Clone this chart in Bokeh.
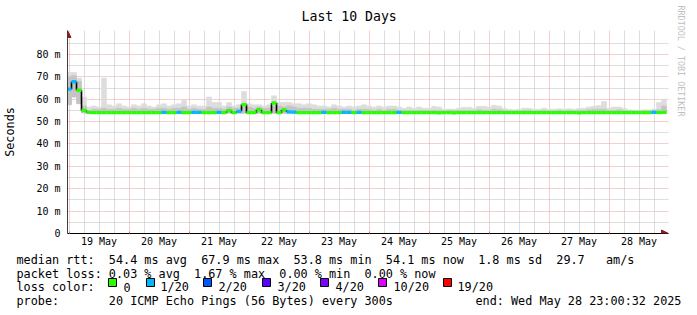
from bokeh.plotting import figure
from bokeh.layouts import column
from bokeh.models import (Range1d, FixedTicker, Arrow, NormalHead,
                          ColumnDataSource, Title)
from bokeh.core.properties import value
from bokeh.embed import file_html
from bokeh.resources import INLINE

# ---------------- data ----------------
# x = hours since Sun 18 May 2025 23:00:32, one value per 2-hour bin
bin_start_hours = list(range(0, 240, 2))

median_ms = [
    64.5, 67.8, 64.0, 55.0, 54.1, 54.0, 54.0, 54.0, 54.0, 54.0, 54.0, 54.0,
    54.0, 54.0, 54.0, 54.0, 54.0, 54.0, 54.0, 54.1, 54.0, 54.0, 54.1, 54.0,
    54.0, 54.1, 54.1, 54.0, 54.0, 54.0, 54.1, 54.0, 54.9, 54.0, 54.6, 57.6,
    54.0, 54.0, 55.3, 54.0, 54.0, 58.3, 54.0, 55.2, 54.3, 54.2, 54.0, 54.0,
    54.0, 54.0, 54.0, 54.1, 54.0, 54.0, 54.0, 54.1, 54.1, 54.0, 54.1, 54.0,
    54.0, 54.0, 54.0, 54.0, 54.0, 54.0, 54.1, 54.0, 54.0, 54.0, 54.0, 54.0,
    54.0, 54.0, 53.9, 54.0, 54.0, 53.9, 54.0, 54.0, 54.0, 54.0, 54.0, 54.0,
    54.0, 54.0, 54.0, 54.0, 54.0, 54.0, 54.0, 54.0, 54.0, 54.0, 54.0, 54.0,
    54.0, 54.0, 54.0, 54.0, 54.0, 54.0, 53.9, 54.0, 54.0, 54.0, 54.0, 54.0,
    54.0, 54.0, 54.0, 54.0, 54.0, 54.0, 54.0, 54.0, 54.0, 54.1, 54.0, 54.1,
]

loss_pings = [
    1, 1, 0, 0, 0, 0, 0, 0, 0, 0, 0, 0,
    0, 0, 0, 0, 0, 0, 0, 1, 0, 0, 1, 0,
    0, 1, 1, 0, 0, 0, 1, 0, 0, 0, 1, 0,
    0, 0, 0, 0, 0, 0, 0, 0, 1, 1, 0, 0,
    0, 0, 0, 1, 0, 0, 0, 1, 1, 0, 1, 0,
    0, 0, 0, 0, 0, 0, 1, 0, 0, 0, 0, 0,
    0, 0, 0, 0, 0, 0, 0, 0, 0, 0, 0, 0,
    0, 0, 0, 0, 0, 0, 0, 0, 0, 0, 0, 0,
    0, 0, 0, 0, 0, 0, 0, 0, 0, 0, 0, 0,
    0, 0, 0, 0, 0, 0, 0, 0, 0, 1, 0, 0,
]

smoke_max_ms = [
    72.0, 72.0, 69.5, 61.0, 56.5, 57.0, 56.5, 69.5, 57.5, 57.0, 58.0, 57.0,
    56.5, 57.5, 57.0, 58.0, 57.0, 56.5, 57.5, 58.0, 57.0, 57.5, 58.0, 59.5,
    57.0, 57.5, 57.0, 57.0, 61.0, 58.5, 58.5, 57.0, 58.5, 57.0, 57.5, 63.5,
    58.0, 57.5, 57.5, 57.0, 57.5, 61.5, 58.5, 58.5, 58.5, 58.0, 58.0, 57.5,
    58.0, 57.5, 57.0, 57.0, 56.5, 57.5, 57.0, 56.5, 57.0, 56.5, 57.0, 57.5,
    57.0, 56.5, 57.0, 56.5, 57.0, 57.0, 56.5, 56.0, 56.5, 56.0, 56.5, 56.0,
    56.0, 56.8, 56.5, 55.5, 55.6, 55.5, 56.0, 56.4, 56.4, 56.0, 56.8, 56.8,
    56.5, 57.3, 57.0, 56.0, 55.5, 55.3, 55.5, 56.0, 56.0, 55.5, 55.5, 56.0,
    55.5, 55.5, 55.7, 55.5, 55.7, 55.5, 55.8, 56.0, 56.5, 56.8, 57.2, 59.0,
    56.0, 56.5, 56.5, 56.0, 55.3, 55.0, 55.0, 55.3, 55.3, 55.5, 58.5, 60.0,
]

smoke_upper_ms = [
    70.0, 70.5, 68.0, 57.0, 55.0, 55.5, 55.5, 56.0, 55.5, 55.5, 56.0, 55.5,
    55.5, 56.0, 55.5, 56.0, 55.5, 55.5, 56.0, 56.0, 55.5, 56.0, 56.0, 56.5,
    55.5, 56.0, 55.5, 55.5, 56.5, 56.0, 56.0, 55.5, 56.5, 56.0, 56.0, 57.0,
    56.5, 56.0, 56.5, 56.0, 56.0, 57.0, 57.0, 56.5, 57.0, 56.5, 56.0, 56.0,
    56.0, 55.5, 55.5, 55.5, 55.5, 56.0, 55.5, 55.5, 55.5, 55.0, 55.5, 55.5,
    55.5, 55.0, 55.5, 55.0, 55.5, 55.5, 55.0, 55.0, 55.0, 55.0, 55.0, 55.0,
    55.0, 55.0, 55.0, 54.8, 55.0, 55.0, 55.0, 55.0, 55.0, 55.0, 55.3, 55.0,
    55.0, 55.5, 55.3, 55.0, 54.8, 54.8, 54.8, 55.0, 55.0, 54.8, 54.8, 55.0,
    54.8, 54.8, 55.0, 54.8, 55.0, 54.8, 55.0, 55.0, 55.3, 55.5, 55.5, 55.5,
    55.0, 55.0, 55.3, 55.0, 54.8, 54.8, 54.8, 54.8, 54.8, 55.0, 55.3, 57.0,
]

smoke_min_ms = [
    57.5, 61.0, 58.0, 53.8, 53.7, 53.7, 53.7, 53.7, 53.7, 53.7, 53.7, 53.7,
    53.7, 53.7, 53.7, 53.7, 53.7, 53.7, 53.7, 53.7, 53.7, 53.7, 53.7, 53.7,
    53.7, 53.7, 53.7, 53.7, 53.7, 53.7, 53.7, 53.7, 53.7, 53.7, 53.7, 53.7,
    53.7, 53.7, 53.7, 53.7, 53.7, 53.7, 53.7, 53.7, 53.7, 53.7, 53.7, 53.7,
    53.7, 53.7, 53.7, 53.7, 53.7, 53.7, 53.7, 53.7, 53.7, 53.7, 53.7, 53.7,
    53.7, 53.7, 53.7, 53.7, 53.7, 53.7, 53.7, 53.7, 53.7, 53.7, 53.7, 53.7,
    53.7, 53.7, 53.7, 53.7, 53.7, 53.7, 53.7, 53.7, 53.7, 53.7, 53.7, 53.7,
    53.7, 53.7, 53.7, 53.7, 53.7, 53.7, 53.7, 53.7, 53.7, 53.7, 53.7, 53.7,
    53.7, 53.7, 53.7, 53.7, 53.7, 53.7, 53.7, 53.7, 53.7, 53.7, 53.7, 53.7,
    53.7, 53.7, 53.7, 53.7, 53.7, 53.7, 53.7, 53.7, 53.7, 53.7, 53.7, 53.7,
]

day_labels = ["19 May", "20 May", "21 May", "22 May", "23 May",
              "24 May", "25 May", "26 May", "27 May", "28 May"]
midnight_hours = [1, 25, 49, 73, 97, 121, 145, 169, 193, 217]
noon_hours = [13, 37, 61, 85, 109, 133, 157, 181, 205, 229]

y_ticks = [0, 10, 20, 30, 40, 50, 60, 70, 80]
y_tick_labels = ["0", "10 m", "20 m", "30 m", "40 m", "50 m", "60 m", "70 m", "80 m"]
y_minor = [5, 15, 25, 35, 45, 55, 65, 75, 85]

loss_labels = ["0", "1/20", "2/20", "3/20", "4/20", "10/20", "19/20"]
loss_thresholds = [0, 1, 2, 3, 4, 10, 19]
loss_colors = ["#26ff00", "#00b8ff", "#0059ff", "#5e00ff", "#7e00ff", "#dd00ff", "#ff0000"]

title_text = "Last 10 Days"
stat_lines = [
    "median rtt:  54.4 ms avg  67.9 ms max  53.8 ms min  54.1 ms now  1.8 ms sd  29.7   am/s",
    "packet loss: 0.03 % avg  1.67 % max  0.00 % min  0.00 % now",
]
probe_text = "probe:       20 ICMP Echo Pings (56 Bytes) every 300s"
end_text = "end: Wed May 28 23:00:32 2025"
watermark = "RRDTOOL / TOBI OETIKER"

# ---------------- main figure ----------------
MONO = "DejaVu Sans Mono"
W = 697
MAIN_H, LEG_H = 250, 65
FL, FR, FT, FB = 67, 668, 30, 233   # frame edges in canvas pixels
X0 = 0.4
X1 = X0 + (FR - FL) / 2.5

p = figure(width=W, height=MAIN_H, output_backend="svg", toolbar_location=None,
           x_range=Range1d(X0, X1), y_range=Range1d(0, 90.7),
           min_border_left=FL, min_border_right=W - FR,
           min_border_top=FT, min_border_bottom=MAIN_H - FB, frame_align=False)
p.outline_line_color = None
p.background_fill_color = "white"
p.border_fill_color = "white"

p.title.text = title_text
p.title.text_font = MONO
p.title.text_font_size = "13.2px"
p.title.text_font_style = "normal"
p.title.text_color = "black"
p.title.align = "left"
p.title.offset = 301 - FL
p.title.standoff = 13

def loss_color(n):
    c = loss_colors[0]
    for t, col in zip(loss_thresholds, loss_colors):
        if n >= t:
            c = col
    return c

bin_end_hours = [h + 2 for h in bin_start_hours]
src = ColumnDataSource(dict(
    x0=bin_start_hours, x1=bin_end_hours, med=median_ms, hi=smoke_max_ms,
    up=smoke_upper_ms, lo=smoke_min_ms,
    col=[loss_color(n) for n in loss_pings]))

# smoke
p.quad(left="x0", right="x1", bottom="lo", top="hi", source=src,
       fill_color="#dddddd", line_color="#dddddd", line_width=0.6)
p.quad(left="x0", right="x1", bottom="lo", top="up", source=src,
       fill_color="#c4c4c4", line_color="#c4c4c4", line_width=0.6)

# median: black connectors + loss coloured steps
p.segment(x0=bin_end_hours[:-1], x1=bin_end_hours[:-1],
          y0=median_ms[:-1], y1=median_ms[1:], line_color="black", line_width=1.6)
p.segment(x0="x0", x1="x1", y0="med", y1="med", source=src,
          line_color="col", line_width=3.3)

# grids
p.xgrid.ticker = FixedTicker(ticks=midnight_hours,
                             minor_ticks=[m + k for m in [-23] + midnight_hours
                                          for k in (6, 12, 18) if 0 < m + k < 241])
p.ygrid.ticker = FixedTicker(ticks=y_ticks[1:], minor_ticks=y_minor)
for g in (p.xgrid[0], p.ygrid[0]):
    g.grid_line_color = "#e9a0a0"
    g.grid_line_dash = "1 1"
    g.minor_grid_line_color = "#bdbdbd"
    g.minor_grid_line_dash = "1 1"

# axes
xa = p.xaxis[0]
xa.ticker = FixedTicker(ticks=noon_hours, minor_ticks=midnight_hours)
xa.major_label_overrides = dict(zip(noon_hours, day_labels))
xa.major_tick_line_color = None
xa.major_tick_out = 0
xa.major_tick_in = 0
xa.minor_tick_line_color = "#e07070"
xa.minor_tick_in = 2
xa.minor_tick_out = 0
xa.axis_line_color = "black"
xa.major_label_standoff = 2
xa.major_label_text_font = MONO
xa.major_label_text_font_size = "10px"
xa.major_label_text_color = "black"

ya = p.yaxis[0]
ya.ticker = FixedTicker(ticks=y_ticks, minor_ticks=[])
ya.major_label_overrides = dict(zip(y_ticks, y_tick_labels))
ya.major_tick_line_color = None
ya.major_tick_out = 0
ya.major_tick_in = 0
ya.minor_tick_line_color = None
ya.axis_line_color = "#404040"
ya.major_label_standoff = 7
ya.major_label_text_font = MONO
ya.major_label_text_font_size = "10px"
ya.major_label_text_color = "black"
ya.axis_label = "Seconds"
ya.axis_label_text_font = MONO
ya.axis_label_text_font_size = "11.8px"
ya.axis_label_text_font_style = "normal"
ya.axis_label_text_color = "black"
ya.axis_label_standoff = 16

# axis arrows (inside the frame)
head = dict(size=7, fill_color="#8b1a1a", line_color="#8b1a1a")
p.add_layout(Arrow(end=NormalHead(**head), x_start=X0, y_start=85, x_end=X0,
                   y_end=90.7, line_alpha=0))
p.add_layout(Arrow(end=NormalHead(**head), x_start=X1 - 5, y_start=0, x_end=X1,
                   y_end=0, line_alpha=0))

# watermark on the right border
p.add_layout(Title(text=watermark, align="left", vertical_align="top", offset=-25,
                   standoff=10, text_font=MONO, text_font_size="8.4px",
                   text_font_style="normal", text_color="#c0c0c0"), "right")

# ---------------- legend strip (pixel coordinates) ----------------
leg = figure(width=W, height=LEG_H, output_backend="svg", toolbar_location=None,
             x_range=Range1d(0, W), y_range=Range1d(MAIN_H + LEG_H, MAIN_H),
             x_axis_type=None, y_axis_type=None, min_border=0, frame_align=False)
leg.outline_line_color = None
leg.grid.visible = False
leg.background_fill_color = "white"
leg.border_fill_color = "white"

def keep_spaces(s):
    return s.replace(" ", "\u00a0")

DY = -4.5   # vertical correction
row_texts = [stat_lines[0], stat_lines[1], "loss color:", probe_text, end_text]
row_x = [16, 16, 16, 16, 475]
row_y = [263.5 + DY, 277.5 + DY, 291.3 + DY, 305.3 + DY, 305.3 + DY]

sq_x = [108, 146, 203, 262, 320, 378, 443]
lab_x = [123, 160, 218, 277, 335, 393, 457]

leg.text(x=row_x + lab_x, y=row_y + [291.3 + DY] * len(loss_labels),
         text=[keep_spaces(t) for t in row_texts + loss_labels],
         text_font=value(MONO), text_font_size="11.8px", text_color="black",
         text_baseline="alphabetic")
leg.quad(left=sq_x, right=[s + 8 for s in sq_x], top=[282.5 + DY] * len(sq_x),
         bottom=[290.5 + DY] * len(sq_x), fill_color=loss_colors, line_color="black",
         line_width=1)

layout = column(p, leg, spacing=0)
open("out.html", "w").write(file_html(layout, INLINE))
